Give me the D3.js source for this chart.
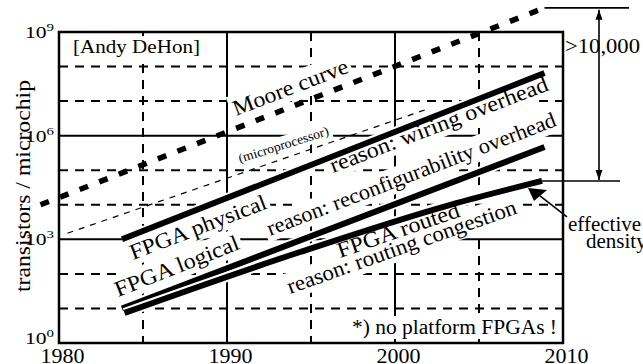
<!DOCTYPE html>
<html><head><meta charset="utf-8">
<script src="https://cdn.jsdelivr.net/npm/d3@7"></script>
<style>
body{margin:0;background:#fff}
svg{display:block}
text{font-family:"Liberation Serif","Times New Roman",serif;fill:#000}
</style>
</head><body>
<svg id="c" width="643" height="364"></svg>
<script>
// ---- data ----
const xTickYears = [1980, 1990, 2000, 2010];
const yTickExponents = [0, 3, 6, 9];
const solidYears = [1990, 2000];
const dashedYears = [1985, 1995, 2005];
const solidDecades = [3, 6];
const dashedDecades = [1, 2, 4, 5, 7, 8];

const mooreYears = [1978.9, 2008.9];
const mooreValues = [1e4, 5e9];
const microYears = [1980.5, 2002.1];
const microValues = [1.5e3, 6.3e6];
const physicalYears = [1983.75, 2008.9];
const physicalValues = [1e3, 6.5e7];
const logicalYears = [1983.75, 2008.9];
const logicalValues = [10, 4.7e5];
const routedYears = [1983.9, 1994.35, 2003.3, 2008.75];
const routedValues = [7.4, 430, 1e4, 4.9e4];

const labelTexts = ["Moore curve", "(microprocessor)", "FPGA physical", "reason: wiring overhead",
  "FPGA logical", "reason: reconfigurability overhead", "FPGA routed", "reason: routing congestion"];
const labelYears = [1990.54, 1990.77, 1984.4, 1996.31, 1983.51, 1992.56, 1996.73, 1993.75];
const labelValues = [10**6.57, 10**5.21, 10**2.40, 10**4.92, 10**1.33, 10**3.10, 10**2.46, 10**1.42];

// ---- label layout (not data) ----
const labelAngles = [-21, -17.5, -21, -21, -21.5, -21, -19, -19.5];
const labelSizes = [22, 13, 22, 22, 22, 21.5, 22, 22];
const labelLengths = [122, 94, 145, 232, 132, 308, 128, 242];

// ---- setup ----
const svg = d3.select('#c');
const L = 59, R = 563, T = 32, B = 343;
const x = d3.scaleLinear().domain([1980, 2010]).range([L, R]);
const y = d3.scaleLog().domain([1, 1e9]).range([B, T]);

svg.append('rect').attr('width', 643).attr('height', 364).attr('fill', '#fff');
const gridL = svg.append('g');
const bgL = svg.append('g');
const lineL = svg.append('g');
const textL = svg.append('g');

// grid
gridL.selectAll('.vs').data(solidYears).join('line')
  .attr('x1', d => x(d)).attr('x2', d => x(d)).attr('y1', T).attr('y2', B)
  .attr('stroke', '#000').attr('stroke-width', 2);
gridL.selectAll('.vd').data(dashedYears).join('line')
  .attr('x1', d => x(d)).attr('x2', d => x(d)).attr('y1', T).attr('y2', B)
  .attr('stroke', '#000').attr('stroke-width', 2).attr('stroke-dasharray', '9,7');
gridL.selectAll('.hs').data(solidDecades).join('line')
  .attr('y1', d => y(10 ** d)).attr('y2', d => y(10 ** d)).attr('x1', L).attr('x2', R)
  .attr('stroke', '#000').attr('stroke-width', 2);
gridL.selectAll('.hd').data(dashedDecades).join('line')
  .attr('y1', d => y(10 ** d)).attr('y2', d => y(10 ** d)).attr('x1', L).attr('x2', R)
  .attr('stroke', '#000').attr('stroke-width', 2).attr('stroke-dasharray', '9,7');

// x axis tick labels
const xAxis = d3.axisBottom(x).tickValues(xTickYears).tickSize(0).tickFormat(d3.format('d'));
const xg = svg.append('g').attr('transform', `translate(0,${B})`).call(xAxis);
xg.select('.domain').remove();
xg.selectAll('text').attr('font-size', 22).attr('dy', null).attr('y', 20).attr('x', 3)
  .style('font-family', '"Liberation Serif",serif');

// y axis tick labels (10 with superscript exponent)
const yAxis = d3.axisLeft(y).tickValues(yTickExponents.map(e => 10 ** e)).tickSize(0).tickFormat('');
const yg = svg.append('g').attr('transform', `translate(${L},0)`).call(yAxis);
yg.select('.domain').remove();
yg.selectAll('.tick').each(function (d) {
  const e = Math.round(Math.log10(d));
  const base = e === 0 ? 0 : 5.5;
  const t = d3.select(this).select('text').text(null)
    .attr('x', null).attr('y', null).attr('dy', null)
    .attr('transform', `translate(-5,${base}) scale(1.35,1)`)
    .attr('text-anchor', 'end')
    .style('font-family', '"Liberation Serif",serif').attr('font-size', 16);
  t.append('tspan').text('10');
  t.append('tspan').text(e).attr('font-size', 11).attr('dy', -7);
});

svg.append('text').attr('transform', `translate(30,${186}) rotate(-90)`)
  .attr('text-anchor', 'middle').attr('font-size', 22)
  .attr('textLength', 212).attr('lengthAdjust', 'spacingAndGlyphs')
  .text('transistors / microchip');

// labels with white boxes
labelTexts.forEach((s, i) => {
  const tr = `translate(${x(labelYears[i])},${y(labelValues[i])}) rotate(${labelAngles[i]})`;
  const t = textL.append('text').attr('transform', tr).attr('font-size', labelSizes[i])
    .attr('textLength', labelLengths[i]).attr('lengthAdjust', 'spacingAndGlyphs').text(s);
  const bb = t.node().getBBox();
  bgL.append('rect').attr('transform', tr)
    .attr('x', bb.x - 3).attr('y', bb.y - 1).attr('width', bb.width + 6).attr('height', bb.height + 2)
    .attr('fill', '#fff');
});

// static texts
function boxText(txt, px, py, size, len, anchor) {
  const t = textL.append('text').attr('x', px).attr('y', py).attr('font-size', size)
    .attr('textLength', len).attr('lengthAdjust', 'spacingAndGlyphs')
    .attr('text-anchor', anchor || 'start').text(txt);
  const bb = t.node().getBBox();
  bgL.append('rect').attr('x', bb.x - 3).attr('y', bb.y).attr('width', bb.width + 6).attr('height', bb.height)
    .attr('fill', '#fff');
}
boxText('[Andy DeHon]', 73, 53, 19, 127);
boxText('*) no platform FPGAs !', 557, 334, 20, 205, 'end');

// frame
lineL.append('rect').attr('x', L).attr('y', T).attr('width', R - L).attr('height', B - T)
  .attr('fill', 'none').attr('stroke', '#000').attr('stroke-width', 2.5);

// data lines
const line = d3.line().x(d => x(d[0])).y(d => y(d[1]));
const zip = (a, b) => a.map((v, i) => [v, b[i]]);

lineL.append('path').attr('d', line(zip(microYears, microValues)))
  .attr('fill', 'none').attr('stroke', '#000').attr('stroke-width', 1.2).attr('stroke-dasharray', '6,6');
lineL.append('path').attr('d', line(zip(mooreYears, mooreValues)))
  .attr('fill', 'none').attr('stroke', '#000').attr('stroke-width', 5.5).attr('stroke-dasharray', '9,12');

function thick(pts, curve) {
  const g = curve ? d3.line().x(d => x(d[0])).y(d => y(d[1])).curve(curve) : line;
  lineL.append('path').attr('d', g(pts)).attr('fill', 'none').attr('stroke', '#fff').attr('stroke-width', 10);
  lineL.append('path').attr('d', g(pts)).attr('fill', 'none').attr('stroke', '#000').attr('stroke-width', 6);
}
thick(zip(physicalYears, physicalValues));
thick(zip(logicalYears, logicalValues));
thick(zip(routedYears, routedValues), d3.curveMonotoneX);

// right-hand annotation
const defs = svg.append('defs');
defs.append('marker').attr('id', 'ah').attr('viewBox', '0 0 10 10').attr('refX', 10).attr('refY', 5)
  .attr('markerWidth', 10).attr('markerHeight', 10).attr('markerUnits', 'userSpaceOnUse').attr('orient', 'auto-start-reverse')
  .append('path').attr('d', 'M0,1.5L10,5L0,8.5Z').attr('fill', '#000');

const topY = y(mooreValues[1]), botY = y(routedValues[routedValues.length - 1]);
const topX = x(mooreYears[1]), botX = x(routedYears[routedYears.length - 1]);
const ann = svg.append('g');
ann.append('line').attr('x1', topX).attr('x2', 629).attr('y1', topY).attr('y2', topY).attr('stroke', '#000').attr('stroke-width', 1.6);
ann.append('line').attr('x1', botX).attr('x2', 620).attr('y1', botY).attr('y2', botY).attr('stroke', '#000').attr('stroke-width', 1.6);
ann.append('line').attr('x1', 599).attr('x2', 599).attr('y1', topY + 2).attr('y2', botY - 1)
  .attr('stroke', '#000').attr('stroke-width', 1.6)
  .attr('marker-start', 'url(#ah)').attr('marker-end', 'url(#ah)');
ann.append('text').attr('x', 565).attr('y', 53).attr('font-size', 20)
  .attr('textLength', 75).attr('lengthAdjust', 'spacingAndGlyphs').text('>10,000');
ann.append('text').attr('x', 568).attr('y', 231).attr('font-size', 21).text('effective');
ann.append('text').attr('x', 586).attr('y', 248).attr('font-size', 21).text('density');
ann.append('line').attr('x1', botX + 25).attr('y1', botY + 36).attr('x2', botX - 2).attr('y2', botY + 15)
  .attr('stroke', '#000').attr('stroke-width', 1.6);
ann.append('path').attr('d', `M${botX - 14},${botY + 7}L${botX + 5},${botY + 9}L${botX - 8},${botY + 20}Z`).attr('fill', '#000');
</script>
</body></html>
